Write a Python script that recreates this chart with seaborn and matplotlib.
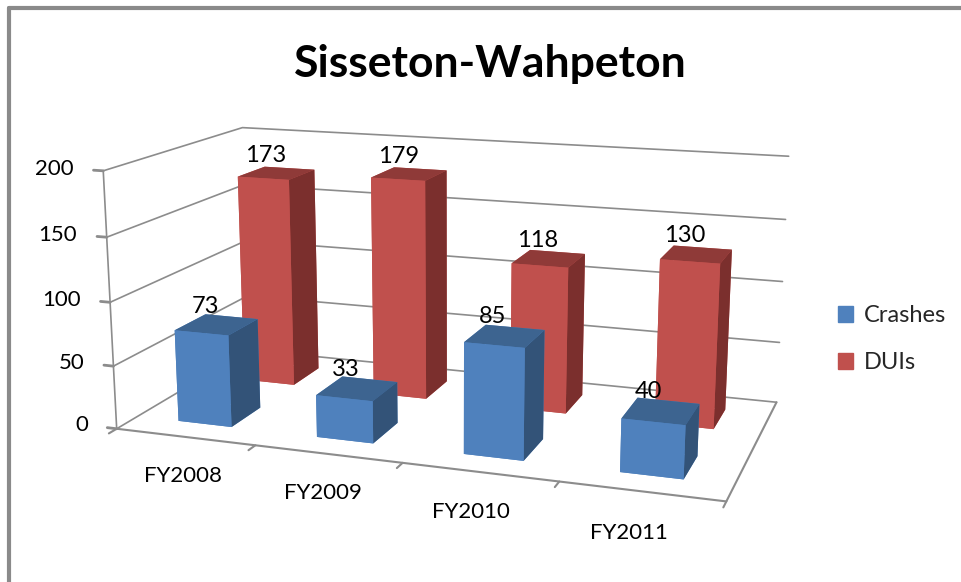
import seaborn as sns
import matplotlib.pyplot as plt
from matplotlib.patches import Patch
from matplotlib.lines import Line2D

# values
years = ['FY2008', 'FY2009', 'FY2010', 'FY2011']
series = ['Crashes', 'DUIs']
crashes = [73, 33, 85, 40]
duis = [173, 179, 118, 130]
z_ticks = [0, 50, 100, 150, 200]

sns.set_theme(style="white")
plt.rcParams['font.family'] = ['Lato', 'DejaVu Sans']

# face order of bar3d: bottom, top, front, back, left, right
blue = ['#4f81bd', '#3d6490', '#4f81bd', '#4f81bd', '#4f81bd', '#335378']
red = ['#c0504d', '#8f3a38', '#c0504d', '#c0504d', '#c0504d', '#7b2f2d']
grey = '#8c8c8c'

fig = plt.figure(figsize=(9.61, 5.82), dpi=100)
ax = fig.add_axes([-0.002, -0.143, 0.93, 1.25], projection='3d', computed_zorder=False)
ax.set_proj_type('persp', focal_length=0.42)
ax.view_init(elev=14, azim=-71)
ax.set_box_aspect((0.81, 0.40, 0.346), zoom=0.968)
ax.set_axis_off()
ax.set_xlim(0, 4)
ax.set_ylim(0, 2)
ax.set_zlim(0, 200)

# walls and floor
for z in z_ticks:
    ax.plot([0, 0, 4], [0, 2, 2], [z, z, z], color=grey, lw=1.2, zorder=1)
    ax.plot([-0.07, 0], [0, 0], [z, z], color=grey, lw=2, zorder=1)
    ax.text(-0.215, 0, z, str(z), ha='right', va='center', fontsize=16, color='black')
ax.plot([0, 0], [0, 0], [0, 200], color=grey, lw=1.2, zorder=1)
ax.plot([0, 4, 4], [0, 0, 2], [0, 0, 0], color=grey, lw=1.5, zorder=1)
for i in range(5):
    ax.plot([i, i], [0, -0.1], [0, 0], color=grey, lw=1.5, zorder=1)

w = 0.39
d = 0.44
for i in range(4):
    ax.bar3d(i + 0.5 - w / 2, 1.5 - d / 2, 0, w, d, duis[i], color=red, shade=False, linewidth=0, zorder=2 + (3 - i) * 0.1)
    ax.text(i + 0.42, 1.5, duis[i] + 14, str(duis[i]), ha='center', va='center', fontsize=17, color='black', zorder=6)
for i in range(4):
    ax.bar3d(i + 0.5 - w / 2, 0.5 - d / 2, 0, w, d, crashes[i], color=blue, shade=False, linewidth=0, zorder=4 + (3 - i) * 0.1)
    ax.text(i + 0.42, 0.5, crashes[i] + 14, str(crashes[i]), ha='center', va='center', fontsize=17, color='black', zorder=6)
    # the category labels drift left of their bars along the axis, as in the original
    ax.text(i * 0.915 + 0.83, -0.65, 0, years[i], ha='center', va='center', fontsize=16, color='black')

handles = [Patch(color='#4f81bd', label=series[0]), Patch(color='#c0504d', label=series[1])]
fig.legend(handles=handles, loc='center left', bbox_to_anchor=(0.85, 0.417), frameon=False,
           fontsize=17, handlelength=0.64, handleheight=0.64, labelspacing=1.1, handletextpad=0.45)

fig.text(0.51, 0.89, 'Sisseton-Wahpeton', ha='center', va='center', fontsize=32, fontweight='bold', color='black')

# frame of the picture, only left and top show
for xs, ys in [([0.009, 0.009], [0, 0.986]), ([0.009, 1], [0.986, 0.986])]:
    fig.add_artist(Line2D(xs, ys, transform=fig.transFigure, color='#8a8a8a', lw=3))

fig.savefig('out.png', dpi=100)
